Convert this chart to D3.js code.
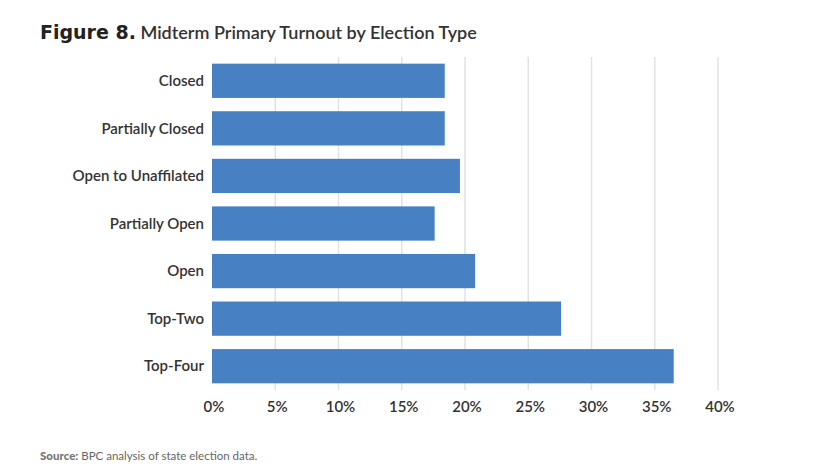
<!DOCTYPE html>
<html><head><meta charset="utf-8">
<script src="https://cdn.jsdelivr.net/npm/d3@7"></script>
<style>body{margin:0;background:#fff}text{font-family:Lato,"Open Sans",sans-serif;fill:#333}</style>
</head><body><svg id="c" width="823" height="474"></svg>
<script>
const categories=["Closed","Partially Closed","Open to Unaffilated","Partially Open","Open","Top-Two","Top-Four"];
const values=[18.4,18.4,19.6,17.6,20.8,27.6,36.5];
const ticks=[0,5,10,15,20,25,30,35,40];
const svg=d3.select("#c");
const x=d3.scaleLinear().domain([0,40]).range([212,718]);
const y=d3.scaleBand().domain(categories).range([57,390]).paddingInner(0.28).paddingOuter(0.14);
svg.append("g").selectAll("line").data(ticks.slice(1)).join("line")
 .attr("x1",d=>x(d)).attr("x2",d=>x(d)).attr("y1",57).attr("y2",390)
 .attr("stroke","#e2e2e2").attr("stroke-width",1.5);
svg.append("g").selectAll("rect").data(values).join("rect")
 .attr("x",x(0)).attr("y",(d,i)=>y(categories[i])).attr("width",d=>x(d)-x(0))
 .attr("height",y.bandwidth()).attr("fill","#4780c3");
svg.append("g").selectAll("text").data(categories).join("text")
 .attr("x",204).attr("y",d=>y(d)+y.bandwidth()/2).attr("dy","0.35em")
 .attr("text-anchor","end").attr("font-size",15).attr("font-weight",600).text(d=>d);
svg.append("g").selectAll("text").data(ticks).join("text")
 .attr("x",d=>x(d)+2).attr("y",412).attr("text-anchor","middle")
 .attr("font-size",15).attr("font-weight",600).text(d=>d+"%");
const t=svg.append("text").attr("x",40).attr("y",39).attr("font-size",18);
t.append("tspan").attr("font-weight",900).attr("font-size",19).attr("font-family","'DejaVu Sans',sans-serif").style("fill","#222").text("Figure 8.");
t.append("tspan").attr("font-weight",600).text(" Midterm Primary Turnout by Election Type");
const s=svg.append("text").attr("x",40).attr("y",460).attr("font-size",11.5);
s.append("tspan").attr("font-weight",900).style("fill","#777").text("Source:");
s.append("tspan").style("fill","#666").text(" BPC analysis of state election data.");
</script></body></html>
